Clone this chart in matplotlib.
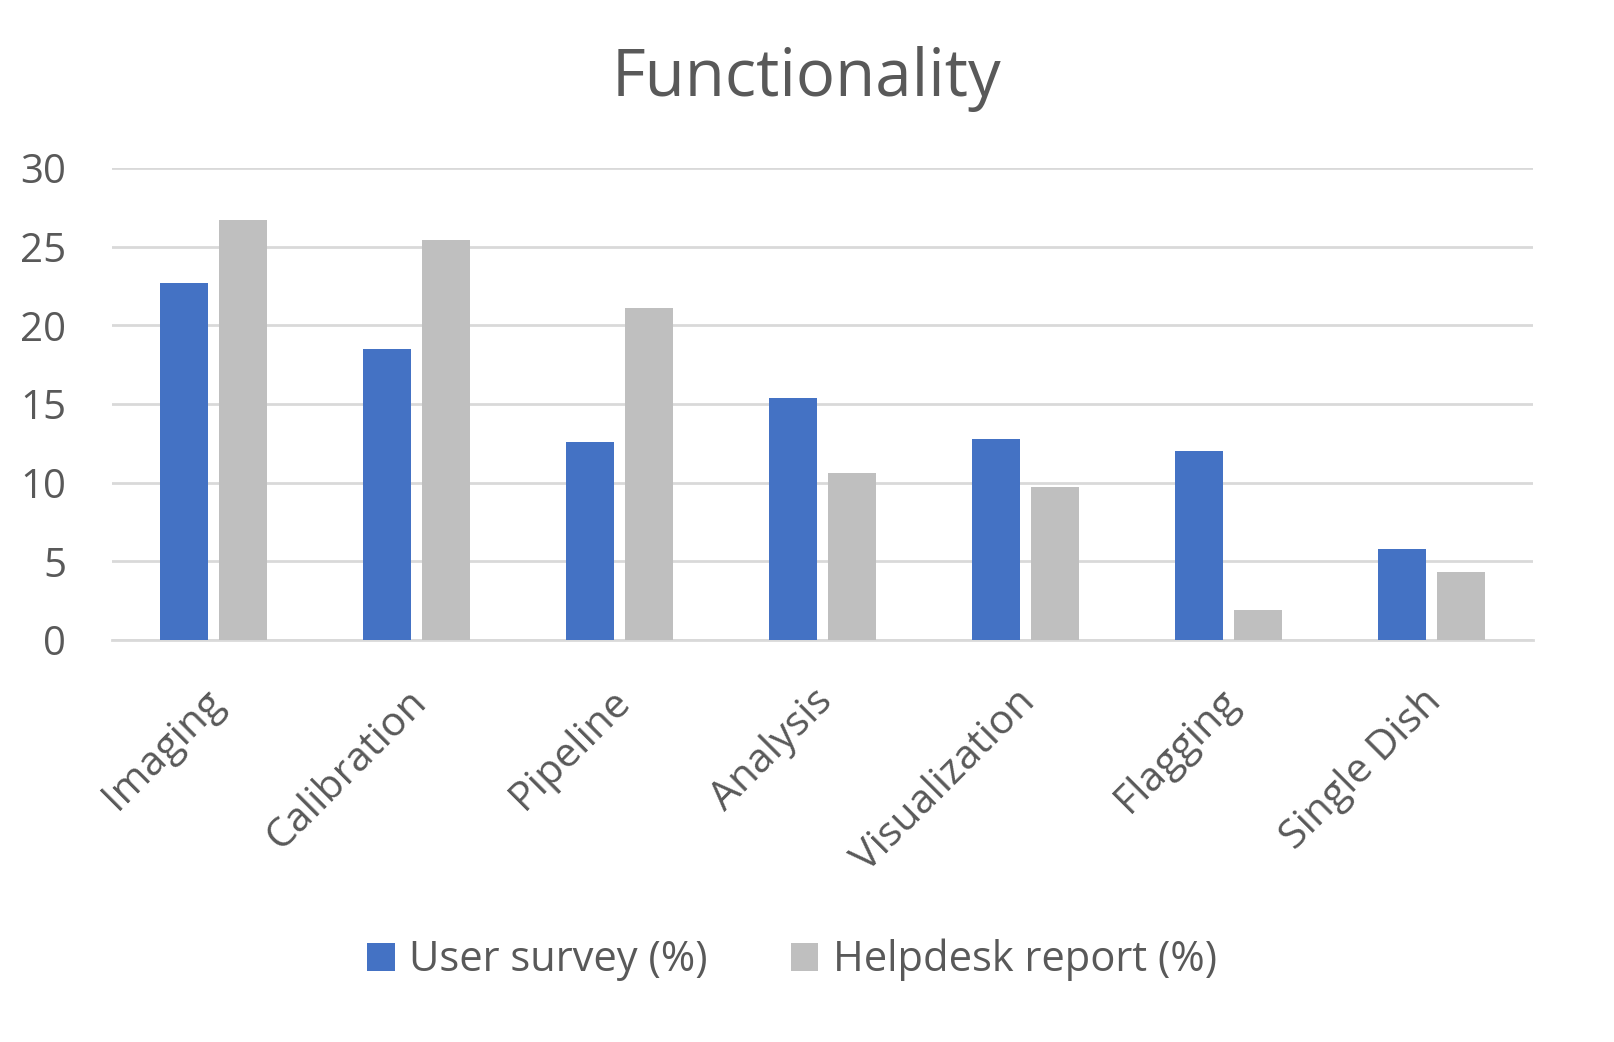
import matplotlib.pyplot as plt
import matplotlib.transforms as mtransforms
import numpy as np

plt.rcParams['font.family'] = ['Open Sans', 'DejaVu Sans']

categories = ['Imaging', 'Calibration', 'Pipeline', 'Analysis',
              'Visualization', 'Flagging', 'Single Dish']
user_survey = [22.7, 18.5, 12.6, 15.4, 12.8, 12.0, 5.8]
helpdesk = [26.7, 25.4, 21.1, 10.6, 9.7, 1.9, 4.3]

text_color = '#595959'
grid_color = '#d9d9d9'

fig = plt.figure(figsize=(16.14, 10.42), dpi=100)
ax = fig.add_axes([112 / 1614, 1 - 640 / 1042, (1533 - 112) / 1614, (640 - 168) / 1042])

x = np.arange(len(categories))
w = 0.235
ax.bar(x - 0.145, user_survey, w, color='#4472c4', label='User survey (%)', zorder=3)
ax.bar(x + 0.145, helpdesk, w, color='#bfbfbf', label='Helpdesk report (%)', zorder=3)

ax.set_xlim(-0.5, len(categories) - 0.5)
ax.set_ylim(0, 30)
ax.set_yticks([0, 5, 10, 15, 20, 25, 30])
ax.grid(axis='y', color=grid_color, linewidth=2, zorder=0)
for s in ['top', 'right', 'left']:
    ax.spines[s].set_visible(False)
ax.spines['bottom'].set_color(grid_color)
ax.spines['bottom'].set_linewidth(2)
ax.tick_params(axis='y', length=0, labelsize=29, labelcolor=text_color, pad=33)
ax.tick_params(axis='x', length=0, labelsize=29.5, labelcolor=text_color, pad=30)
ax.set_xticks(x)
ax.set_xticklabels(categories, rotation=45, ha='right', rotation_mode='anchor')
shift = mtransforms.ScaledTranslation(-10 / 100, 0, fig.dpi_scale_trans)
for lbl in ax.get_xticklabels():
    lbl.set_transform(lbl.get_transform() + shift)

fig.suptitle('Functionality', y=0.956, fontsize=47, color=text_color)
fig.legend(loc='center', bbox_to_anchor=(792 / 1614, 1 - 960 / 1042), ncol=2,
           frameon=False, fontsize=30, labelcolor=text_color,
           handlelength=0.65, handleheight=0.65, handletextpad=0.35, columnspacing=2.0)

fig.savefig('out.png', dpi=100)
